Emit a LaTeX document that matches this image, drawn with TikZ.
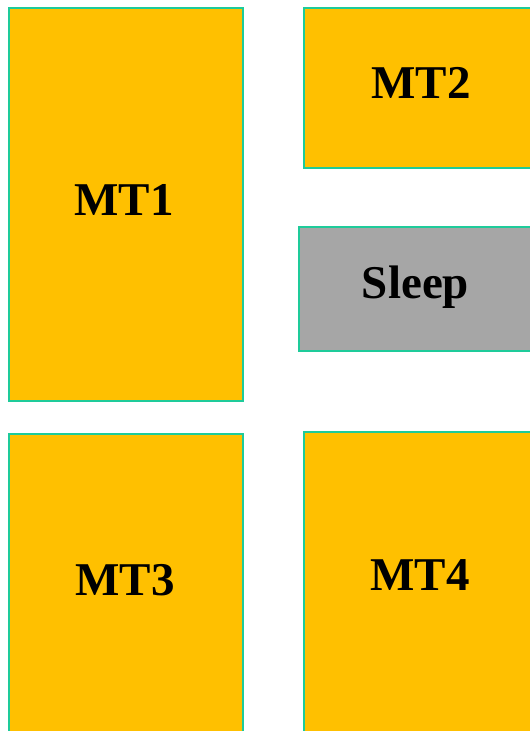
\documentclass[tikz,border=0pt]{standalone}
\usepackage{fontspec}
\setmainfont{Liberation Serif}
\definecolor{boxfill}{HTML}{FFC000}
\definecolor{sleepfill}{HTML}{A6A6A6}
\definecolor{edge}{HTML}{1ECB9A}
\begin{document}
\begin{tikzpicture}[x=1pt,y=-1pt,
  blk/.style={draw=edge, line width=2pt, rectangle, inner sep=0pt},
  tmt/.style={fill=boxfill},
  tsl/.style={fill=sleepfill},
  lbl/.style={font=\fontsize{47}{50}\selectfont\bfseries, inner sep=0pt, anchor=base}]
\useasboundingbox (0,0) rectangle (530,731);
\clip (0,0) rectangle (530,731);
\fill[white] (0,0) rectangle (530,731);
\node[blk,tmt,minimum width=234pt,minimum height=393pt] (mt1) at (125.5,204) {};
\node[blk,tmt,minimum width=240pt,minimum height=160pt] (mt2) at (424,87.5) {};
\node[blk,tsl,minimum width=245pt,minimum height=124pt] (sleep) at (421.5,288.5) {};
\node[blk,tmt,minimum width=234pt,minimum height=330pt] (mt3) at (125.5,599) {};
\node[blk,tmt,minimum width=240pt,minimum height=330pt] (mt4) at (424,597) {};
\node[lbl] (l1) at (124,215) {MT1};
\node[lbl] (l2) at (421,98) {MT2};
\node[lbl] (ls) at (415.5,298) {Sleep};
\node[lbl] (l3) at (125,595) {MT3};
\node[lbl] (l4) at (420,590) {MT4};
\end{tikzpicture}
\end{document}
